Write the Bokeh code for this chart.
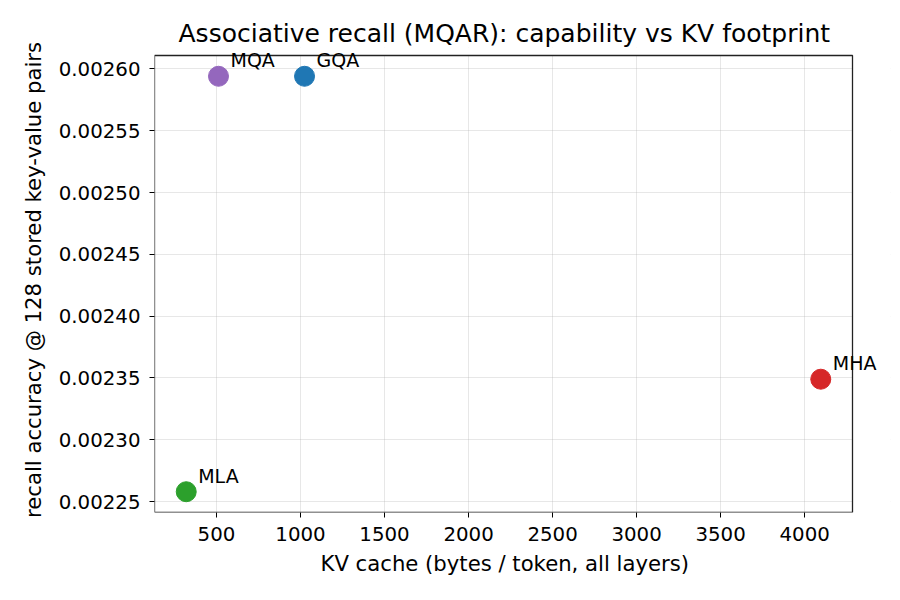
from bokeh.plotting import figure
from bokeh.models import (ColumnDataSource, FixedTicker, PrintfTickFormatter, Range1d, Label,
                          BoxAnnotation, Title)
from bokeh.embed import file_html
from bokeh.resources import INLINE

names = ["MHA", "GQA", "MQA", "MLA"]
kv_bytes = [4096, 1024, 512, 320]
recall = [0.002349, 0.002594, 0.002594, 0.002258]
colors = ["#d62728", "#1f77b4", "#9467bd", "#2ca02c"]
x_ticks = [500, 1000, 1500, 2000, 2500, 3000, 3500, 4000]
y_ticks = [0.00225, 0.00230, 0.00235, 0.00240, 0.00245, 0.00250, 0.00255, 0.00260]

src = ColumnDataSource(dict(x=kv_bytes, y=recall, c=colors, n=names))

# axes box limits (5% margins like matplotlib)
xmin, xmax = min(kv_bytes), max(kv_bytes)
ymin, ymax = min(recall), max(recall)
x0 = xmin - 0.05 * (xmax - xmin)
x1 = xmax + 0.05 * (xmax - xmin)
y0 = ymin - 0.05 * (ymax - ymin)
y1 = ymax + 0.05 * (ymax - ymin)

# layout (pixels): visible box 154..852 x 55..512; frame extended so labels aren't clipped
BOX_W, BOX_H = 698, 457
EXT_R, EXT_T = 38, 8
xr_end = x1 + EXT_R * (x1 - x0) / BOX_W
yr_end = y1 + EXT_T * (y1 - y0) / BOX_H

FONT = "DejaVu Sans"
p = figure(width=900, height=600, output_backend="svg", toolbar_location=None,
           x_range=Range1d(x0, xr_end), y_range=Range1d(y0, yr_end),
           min_border_left=154, min_border_right=48 - EXT_R, min_border_top=55 - EXT_T,
           min_border_bottom=88)

p.title.text = "Associative recall (MQAR): capability vs KV footprint"
p.title.text_font = FONT
p.title.text_font_size = "25px"
p.title.text_font_style = "normal"
p.title.text_color = "black"
p.title.align = "left"
p.title.offset = 24
p.title.standoff = 0

p.scatter("x", "y", source=src, size=20, fill_color="c", line_color="c")

# white masks outside the axes box, then the box outline
p.add_layout(BoxAnnotation(left=x1, fill_color="white", fill_alpha=1, line_alpha=0))
p.add_layout(BoxAnnotation(bottom=y1, fill_color="white", fill_alpha=1, line_alpha=0))
p.add_layout(BoxAnnotation(left=x0, right=x1, bottom=y0, top=y1, fill_alpha=0,
                           line_color="#222222", line_width=1.3, line_alpha=1))

for xv, yv, nm in zip(kv_bytes, recall, names):
    p.add_layout(Label(x=xv, y=yv, text=nm, x_offset=12, y_offset=5,
                       text_font_size="19px", text_color="black",
                       text_baseline="bottom", text_font=FONT, level="overlay"))

p.xaxis.ticker = FixedTicker(ticks=x_ticks)
p.yaxis.ticker = FixedTicker(ticks=y_ticks)
p.xaxis.bounds = (x0, x1)
p.yaxis.bounds = (y0, y1)
p.yaxis.formatter = PrintfTickFormatter(format="%.5f")
p.yaxis.axis_label = "recall accuracy @ 128 stored key-value pairs"

# x-axis label as a below-title so it centres on the visible box
p.add_layout(Title(text="KV cache (bytes / token, all layers)", align="left", offset=166,
                   standoff=11, text_font=FONT, text_font_size="21.2px",
                   text_font_style="normal", text_color="black"), "below")

for ax in (p.xaxis, p.yaxis):
    ax.axis_label_text_font = FONT
    ax.axis_label_text_font_size = "21.2px"
    ax.axis_label_text_font_style = "normal"
    ax.axis_label_text_color = "black"
    ax.major_label_text_font = FONT
    ax.major_label_text_font_size = "19.8px"
    ax.major_label_text_color = "black"
    ax.axis_line_color = None
    ax.major_tick_line_color = "black"
    ax.major_tick_in = 0
    ax.major_tick_out = 5
    ax.minor_tick_line_color = None
    ax.major_label_standoff = 9
    ax.axis_label_standoff = 10

p.outline_line_color = None
p.grid.grid_line_color = "#b0b0b0"
p.grid.grid_line_alpha = 0.3
p.grid.grid_line_width = 1
p.background_fill_color = "white"
p.border_fill_color = "white"

open("out.html", "w").write(file_html(p, INLINE))
